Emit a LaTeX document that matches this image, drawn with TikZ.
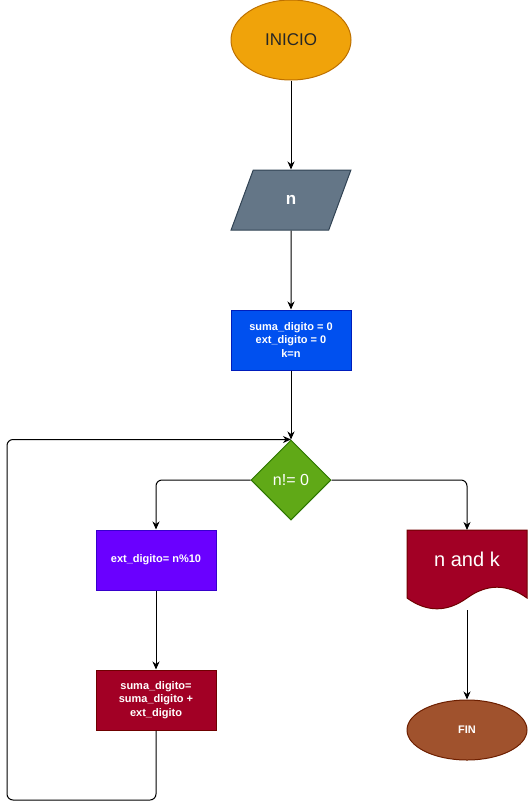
\documentclass[tikz,border=0pt]{standalone}
\usepackage{fontspec}
\setmainfont{Liberation Sans}
\usepackage{tikz}
\usetikzlibrary{shapes.geometric, arrows.meta, positioning}
\usepackage{xcolor}
\definecolor{inicioF}{HTML}{F0A30A}
\definecolor{inicioD}{HTML}{BD7000}
\definecolor{grayF}{HTML}{647687}
\definecolor{grayD}{HTML}{314354}
\definecolor{blueF}{HTML}{0050EF}
\definecolor{blueD}{HTML}{001DBC}
\definecolor{greenF}{HTML}{60A917}
\definecolor{greenD}{HTML}{2D7600}
\definecolor{violetF}{HTML}{6A00FF}
\definecolor{violetD}{HTML}{3700CC}
\definecolor{redF}{HTML}{A20025}
\definecolor{redD}{HTML}{6F0000}
\definecolor{brownF}{HTML}{A0522D}
\definecolor{brownD}{HTML}{6D1F00}
\tikzset{
  term/.style={ellipse, minimum width=120pt, minimum height=80pt,
    inner sep=0pt, line width=1pt},
  io/.style={trapezium, trapezium left angle=71.6, trapezium right angle=108.4,
    trapezium stretches=true, minimum width=120pt, minimum height=60pt,
    inner sep=0pt, fill=grayF, draw=grayD, line width=1pt,
    text=white, font=\fontsize{17}{20}\selectfont\bfseries},
  proc/.style={rectangle, minimum width=120pt, minimum height=60pt,
    inner sep=2pt, align=center, line width=1pt, text=white,
    font=\fontsize{11}{13.5}\selectfont\bfseries},
  dec/.style={diamond, minimum size=80pt, inner sep=0pt, line width=1pt,
    fill=greenF, draw=greenD, text=white, font=\fontsize{16}{19}\selectfont},
  arr/.style={-{Stealth[length=8pt, width=7pt, inset=2.5pt]}, line width=1pt,
    rounded corners=6pt},
  ln/.style={line width=1pt, rounded corners=6pt},
}
\begin{document}
\begin{tikzpicture}[x=1pt, y=-1pt]
  \useasboundingbox (0,0) rectangle (528,809);

  % -- main column --
  \node[term, fill=inicioF, draw=inicioD, text=black!85,
        font=\fontsize{17}{20}\selectfont] (inicio) at (291,40) {INICIO};
  \node[io] (leer) at (291,200) {n};
  \node[proc, fill=blueF, draw=blueD] (init) at (291,340)
       {suma\_digito = 0\\ext\_digito = 0\\k=n};
  \node[dec] (cond) at (291,480) {n!= 0};

  % -- loop body --
  \node[proc, fill=violetF, draw=violetD] (ext) at (156,560) {ext\_digito= n\%10};
  \node[proc, fill=redF, draw=redD] (suma) at (156,700)
       {suma\_digito=\\suma\_digito +\\ext\_digito};
  \coordinate (back) at (7,800);

  % -- output --
  \filldraw[fill=redF, draw=redD, line width=1pt]
       (407,530) -- (527,530) -- (527,598)
       .. controls (507,583.6) and (487,583.6) .. (467,598)
       .. controls (447,612.4) and (427,612.4) .. (407,598) -- cycle;
  \node[text=white, font=\fontsize{20}{24}\selectfont] (salida) at (467,559) {n and k};
  \coordinate (outtop) at (467,530);
  \coordinate (outbot) at (467,610);
  \node[term, minimum height=60pt, fill=brownF, draw=brownD, text=white,
        font=\fontsize{11}{13}\selectfont\bfseries] (fin) at (467,730) {FIN};

  % Connecting arrows
  \draw[arr] (inicio) -- (leer);
  \draw[arr] (leer) -- (init);
  \draw[arr] (init) -- (cond.north);
  \draw[arr] (cond.west) -| (ext.north);
  \draw[arr] (ext) -- (suma);
  \draw[arr] (suma.south) |- (back) |- (cond.north);
  \draw[arr] (cond.east) -| (outtop);
  \draw[arr] (outbot) -- (fin.north);
\end{tikzpicture}
\end{document}
